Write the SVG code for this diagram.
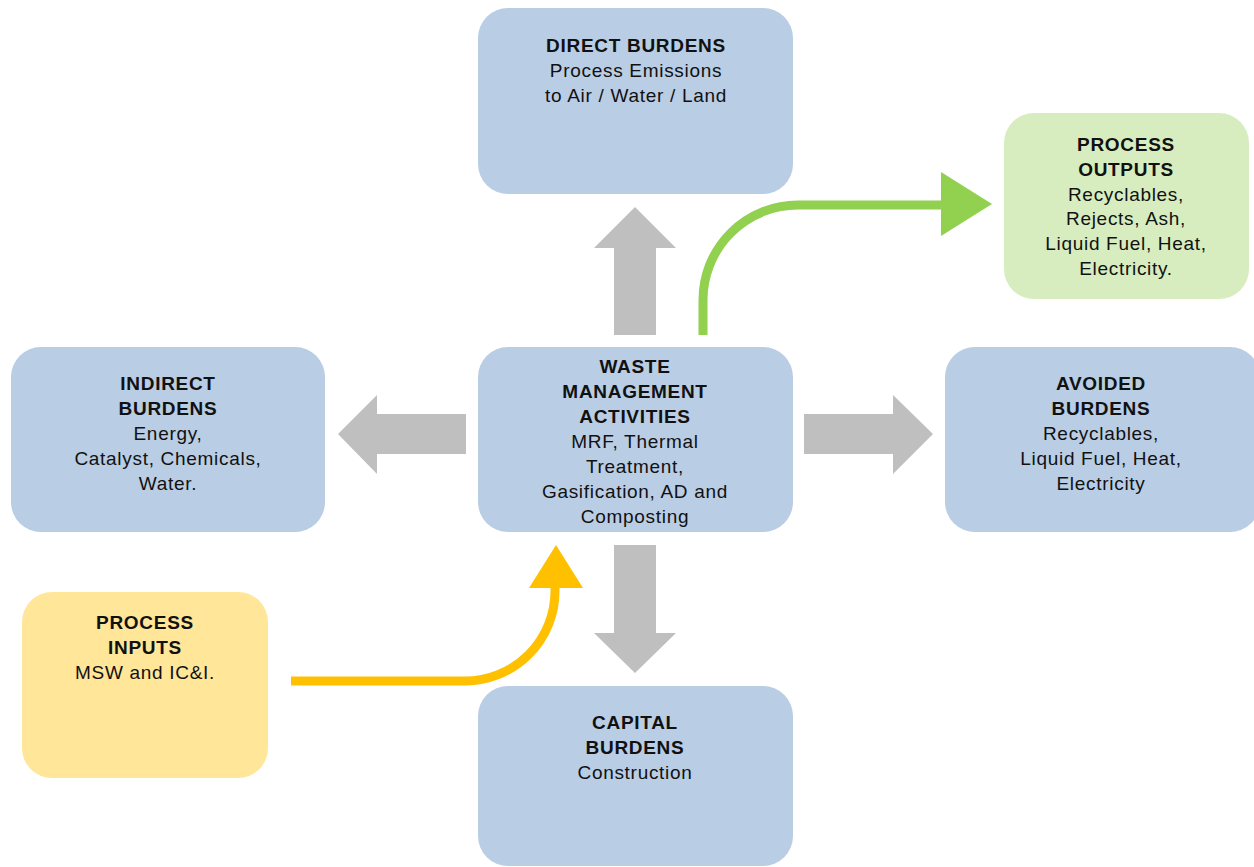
<svg xmlns="http://www.w3.org/2000/svg" width="1254" height="867" viewBox="0 0 1254 867">
<style>
.box{fill:#B9CDE5;}
.green{fill:#D7EDBF;}
.yellow{fill:#FFE699;}
text{font-family:"Liberation Sans",Arial,sans-serif;font-size:19px;letter-spacing:0.7px;fill:#111;text-anchor:middle;}
.b{font-weight:bold;}
.gray{fill:#BFBFBF;}
</style>
<rect width="1254" height="867" fill="#FFFFFF"/>
<g id="connectors">
<polygon class="gray" points="614,335 614,248 594,248 635,207 676,248 656,248 656,335"/>
<polygon class="gray" points="466,414 377,414 377,395 338,434 377,474 377,454 466,454"/>
<polygon class="gray" points="804,414 893,414 893,395 933,434 893,474 893,454 804,454"/>
<polygon class="gray" points="614,545 656,545 656,633 676,633 635,673 594,633 614,633"/>
<path d="M703,335 L703,300 A95,95 0 0 1 798,205 L944,205" fill="none" stroke="#92D050" stroke-width="9"/>
<polygon points="941,172 941,236 992,204" fill="#92D050"/>
<path d="M291,681 L465,681 A90,90 0 0 0 555,591 L555,585" fill="none" stroke="#FFC000" stroke-width="9"/>
<polygon points="529,588 583,588 556,545" fill="#FFC000"/>
</g>
<g id="direct-burdens">
<rect class="box" x="478" y="8" width="315" height="186" rx="30"/>
<text class="b" x="636" y="52">DIRECT BURDENS</text>
<text x="636" y="77">Process Emissions</text>
<text x="636" y="102">to Air / Water / Land</text>
</g>
<g id="process-outputs">
<rect class="green" x="1004" y="113" width="245" height="186" rx="30"/>
<text class="b" x="1126" y="151">PROCESS</text>
<text class="b" x="1126" y="176">OUTPUTS</text>
<text x="1126" y="201">Recyclables,</text>
<text x="1126" y="225">Rejects, Ash,</text>
<text x="1126" y="250">Liquid Fuel, Heat,</text>
<text x="1126" y="275">Electricity.</text>
</g>
<g id="indirect-burdens">
<rect class="box" x="11" y="347" width="314" height="185" rx="30"/>
<text class="b" x="168" y="390">INDIRECT</text>
<text class="b" x="168" y="415">BURDENS</text>
<text x="168" y="440">Energy,</text>
<text x="168" y="465">Catalyst, Chemicals,</text>
<text x="168" y="490">Water.</text>
</g>
<g id="waste-management">
<rect class="box" x="478" y="347" width="315" height="185" rx="30"/>
<text class="b" x="635" y="373">WASTE</text>
<text class="b" x="635" y="398">MANAGEMENT</text>
<text class="b" x="635" y="423">ACTIVITIES</text>
<text x="635" y="448">MRF, Thermal</text>
<text x="635" y="473">Treatment,</text>
<text x="635" y="498">Gasification, AD and</text>
<text x="635" y="523">Composting</text>
</g>
<g id="avoided-burdens">
<rect class="box" x="945" y="347" width="315" height="185" rx="30"/>
<text class="b" x="1101" y="390">AVOIDED</text>
<text class="b" x="1101" y="415">BURDENS</text>
<text x="1101" y="440">Recyclables,</text>
<text x="1101" y="465">Liquid Fuel, Heat,</text>
<text x="1101" y="490">Electricity</text>
</g>
<g id="process-inputs">
<rect class="yellow" x="22" y="592" width="246" height="186" rx="30"/>
<text class="b" x="145" y="629">PROCESS</text>
<text class="b" x="145" y="654">INPUTS</text>
<text x="145" y="679">MSW and IC&amp;I.</text>
</g>
<g id="capital-burdens">
<rect class="box" x="478" y="686" width="315" height="180" rx="30"/>
<text class="b" x="635" y="729">CAPITAL</text>
<text class="b" x="635" y="754">BURDENS</text>
<text x="635" y="779">Construction</text>
</g>
</svg>
